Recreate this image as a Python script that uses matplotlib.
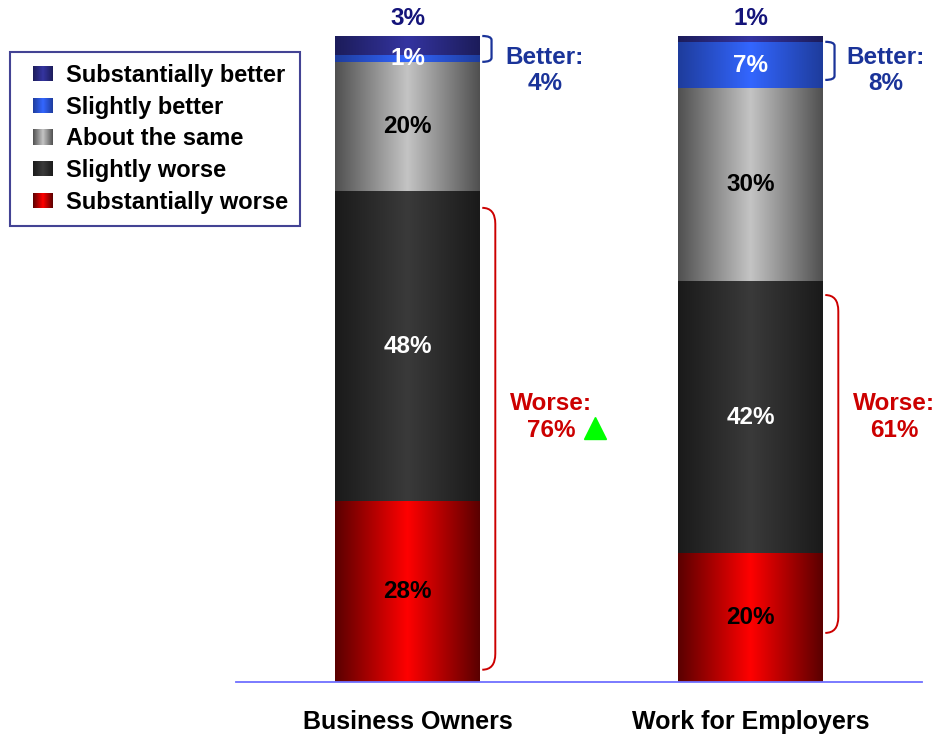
import matplotlib
matplotlib.use("Agg")
import matplotlib.pyplot as plt
import numpy as np
from matplotlib.colors import LinearSegmentedColormap
from matplotlib.legend_handler import HandlerBase
from matplotlib.patches import Rectangle, PathPatch
from matplotlib.path import Path

plt.rcParams['font.family'] = ['Liberation Sans', 'DejaVu Sans']
plt.rcParams['font.weight'] = 'bold'

# survey data
groups = ["Business Owners", "Work for Employers"]
responses = ["Substantially better", "Slightly better", "About the same",
             "Slightly worse", "Substantially worse"]
substantially_better = [3, 1]
slightly_better = [1, 7]
about_same = [20, 30]
slightly_worse = [48, 42]
substantially_worse = [28, 20]
better_totals = [4, 8]
worse_totals = [76, 61]

# edge / centre colours for the horizontal shading of each segment
shades = {
    "Substantially better": ("#1c1c5a", "#3434a0"),
    "Slightly better": ("#1e3c9c", "#3366ff"),
    "About the same": ("#505050", "#c4c4c4"),
    "Slightly worse": ("#1a1a1a", "#3a3a3a"),
    "Substantially worse": ("#5a0000", "#ff0000"),
}
label_colors = {
    "Substantially better": "#14147a",
    "Slightly better": "white",
    "About the same": "black",
    "Slightly worse": "white",
    "Substantially worse": "black",
}
FS = 17.5


def make_cmap(name):
    edge, centre = shades[name]
    return LinearSegmentedColormap.from_list(name, [edge, centre, edge])


class Swatch:
    def __init__(self, name):
        self.name = name


class GradientHandler(HandlerBase):
    # small shaded square at the right end of the handle box
    def create_artists(self, legend, orig_handle, xdescent, ydescent,
                       width, height, fontsize, trans):
        cmap = make_cmap(orig_handle.name)
        sw, sh = 14.4, 11.0
        left = -xdescent + width - sw
        bot = -ydescent + (height - sh) / 2
        n = 20
        w = sw / n
        arts = []
        for i in range(n):
            r = Rectangle((left + i * w, bot), w * 1.05, sh,
                          facecolor=cmap((i + 0.5) / n), edgecolor="none",
                          transform=trans)
            arts.append(r)
        return arts


fig = plt.figure(figsize=(9.41, 7.35), dpi=100)
ax = fig.add_axes([236 / 941, 1 - 682 / 735, (922 - 236) / 941, (682 - 36) / 735])

x = np.arange(len(groups))
width = 0.42
series = [substantially_worse, slightly_worse, about_same, slightly_better, substantially_better]
names = responses[::-1]
bottom = np.zeros(len(groups))
grad = np.linspace(0, 1, 256).reshape(1, -1)

for vals, name in zip(series, names):
    bars = ax.bar(x, vals, width, bottom=bottom, facecolor="none", edgecolor="none")
    cmap = make_cmap(name)
    for rect, v, b, xi in zip(bars, vals, bottom, x):
        x0, y0 = rect.get_x(), rect.get_y()
        im = ax.imshow(grad, cmap=cmap, aspect="auto",
                       extent=[x0, x0 + rect.get_width(), y0, y0 + rect.get_height()],
                       zorder=1)
        im.set_clip_path(rect)
        if name == "Substantially better":
            ax.text(xi, b + v + 0.9, f"{v}%", ha="center", va="bottom",
                    fontsize=FS, color=label_colors[name], fontweight="bold")
        else:
            ax.text(xi, b + v / 2, f"{v}%", ha="center", va="center",
                    fontsize=FS, color=label_colors[name], fontweight="bold", zorder=3)
    bottom = bottom + np.array(vals)

ax.set_xlim(-0.5, 1.5)
ax.set_ylim(0, 100)


def bracket(xs, y0, y1, dx, rpx, color, lw):
    # rounded right-hand bracket, corner radius given in pixels
    ry = rpx / 6.46
    verts = [(xs, y1), (xs + dx, y1), (xs + dx, y1 - ry),
             (xs + dx, y0 + ry), (xs + dx, y0), (xs, y0)]
    codes = [Path.MOVETO, Path.CURVE3, Path.CURVE3,
             Path.LINETO, Path.CURVE3, Path.CURVE3]
    ax.add_patch(PathPatch(Path(verts, codes), facecolor="none",
                           edgecolor=color, lw=lw, clip_on=False))


# bracket spans (y ranges)
better_spans = [(96, 100), (93.2, 99.1)]
worse_spans = [(1.9, 73.4), (7.6, 59.9)]

for i in range(len(groups)):
    xs = x[i] + width / 2 + 0.008
    bracket(xs, *better_spans[i], 0.027, 4, "#1a3399", 1.6)
    bracket(xs, *worse_spans[i], 0.038, 16, "#cc0000", 1.4)
    ax.text(x[i] + 0.40 - (0.005 if i else 0), 94.7, f"Better:\n{better_totals[i]}%",
            ha="center", va="center", fontsize=FS, color="#1a3399",
            fontweight="bold", linespacing=1.15)
    ax.text(x[i] + 0.418, 41.0, f"Worse:\n{worse_totals[i]}%",
            ha="center", va="center", fontsize=FS, color="#cc0000",
            fontweight="bold", linespacing=1.22)

# up arrow marking the business owners change
ax.plot([x[0] + 0.547], [39.3], marker="^", color="#00ff00", markersize=16,
        clip_on=False, linestyle="none")

for s in ["top", "right", "left"]:
    ax.spines[s].set_visible(False)
ax.spines["bottom"].set_color("#6f6fff")
ax.spines["bottom"].set_linewidth(1.3)
ax.set_yticks([])
ax.set_xticks(x)
ax.set_xticklabels(groups, fontsize=18, fontweight="bold")
ax.tick_params(axis="x", length=0, pad=20)

handles = [Swatch(n) for n in responses]
leg = fig.legend(handles, responses, handler_map={Swatch: GradientHandler()},
                 loc="upper left", bbox_to_anchor=(10 / 941, 1 - 52 / 735),
                 frameon=True, fancybox=False, fontsize=17,
                 handlelength=1.31, handleheight=0.7, handletextpad=0.55,
                 labelspacing=0.37, borderpad=0.5, borderaxespad=0)
leg.get_frame().set_edgecolor("#14147a")
leg.get_frame().set_linewidth(1.5)
for t in leg.get_texts():
    t.set_fontweight("bold")

fig.savefig("out.png", dpi=100)
